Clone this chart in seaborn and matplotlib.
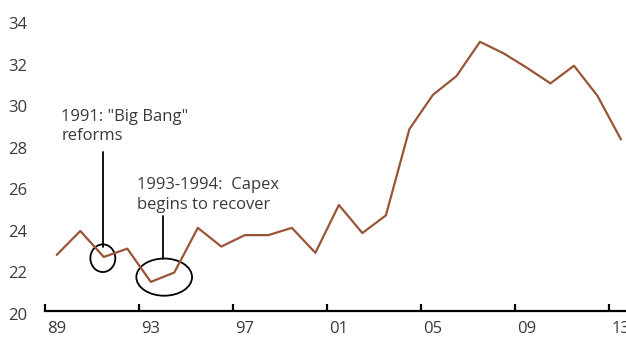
import matplotlib
matplotlib.use("Agg")
import matplotlib.pyplot as plt
import matplotlib.transforms as mtransforms
from matplotlib.patches import Ellipse
import seaborn as sns
import pandas as pd

years = list(range(1989, 2014))
values = [22.7, 23.85, 22.6, 23.0, 21.4, 21.85, 24.0, 23.1, 23.65, 23.65,
          24.0, 22.8, 25.1, 23.75, 24.6, 28.75, 30.4, 31.3, 32.95, 32.4,
          31.7, 30.95, 31.8, 30.35, 28.25]
ytick_vals = [20, 22, 24, 26, 28, 30, 32, 34]
xlabel_years = [1989, 1993, 1997, 2001, 2005, 2009, 2013]
xlabel_text = ["89", "93", "97", "01", "05", "09", "13"]
note1 = ['1991: "Big Bang"', "reforms"]
note2 = ["1993-1994:  Capex", "begins to recover"]

sns.set_theme(style="white")
plt.rcParams['font.family'] = ['Open Sans', 'DejaVu Sans']

TXT = "#3a3a3a"
LINE = "#9a5536"

fig = plt.figure(figsize=(6.26, 3.37), dpi=100)
ax = fig.add_axes([45/626, 1 - 311/337, (632.75 - 45)/626, (311 - 20)/337])

df = pd.DataFrame({"year": years, "value": values})
sns.lineplot(data=df, x="year", y="value", ax=ax, color=LINE, linewidth=1.6)

ax.set_xlim(1988.5, 2013.5)
ax.set_ylim(20, 34)
ax.set_xlabel("")
ax.set_ylabel("")

for s in ["top", "right", "left"]:
    ax.spines[s].set_visible(False)
ax.spines["bottom"].set_color("black")
ax.spines["bottom"].set_linewidth(1.6)

# major ticks at category boundaries, labels on minor ticks at category centers
ax.set_xticks([y - 0.5 for y in xlabel_years])
ax.set_xticklabels([])
ax.set_xticks(xlabel_years, minor=True)
ax.set_xticklabels(xlabel_text, minor=True)
ax.tick_params(axis="x", which="major", direction="in", length=5, width=1.6,
               color="black", bottom=True)
ax.tick_params(axis="x", which="minor", length=0, pad=7, labelsize=12,
               labelcolor=TXT, bottom=True)

ax.set_yticks(ytick_vals)
ax.set_yticklabels([str(v) for v in ytick_vals])
ax.tick_params(axis="y", length=0, pad=13, labelsize=12, labelcolor=TXT)
offset = mtransforms.ScaledTranslation(0, -3/100, fig.dpi_scale_trans)
for lab in ax.get_yticklabels():
    lab.set_transform(lab.get_transform() + offset)

# annotations
ax.text(1989.2, 29.16, note1[0], fontsize=12, color=TXT, va="baseline", ha="left")
ax.text(1989.2, 28.23, note1[1], fontsize=12, color=TXT, va="baseline", ha="left")
ax.text(1992.4, 25.85, note2[0], fontsize=12, color=TXT, va="baseline", ha="left")
ax.text(1992.4, 24.89, note2[1], fontsize=12, color=TXT, va="baseline", ha="left")

ax.plot([1990.96, 1990.96], [23.07, 27.63], color="black", linewidth=1.3)
ax.plot([1993.51, 1993.51], [22.49, 24.56], color="black", linewidth=1.3)
ax.add_patch(Ellipse((1990.96, 22.54), 1.06, 1.33, fill=False,
                     edgecolor="black", linewidth=1.3))
ax.add_patch(Ellipse((1993.57, 21.63), 2.37, 1.79, fill=False,
                     edgecolor="black", linewidth=1.3))

fig.savefig("out.png", dpi=100)
